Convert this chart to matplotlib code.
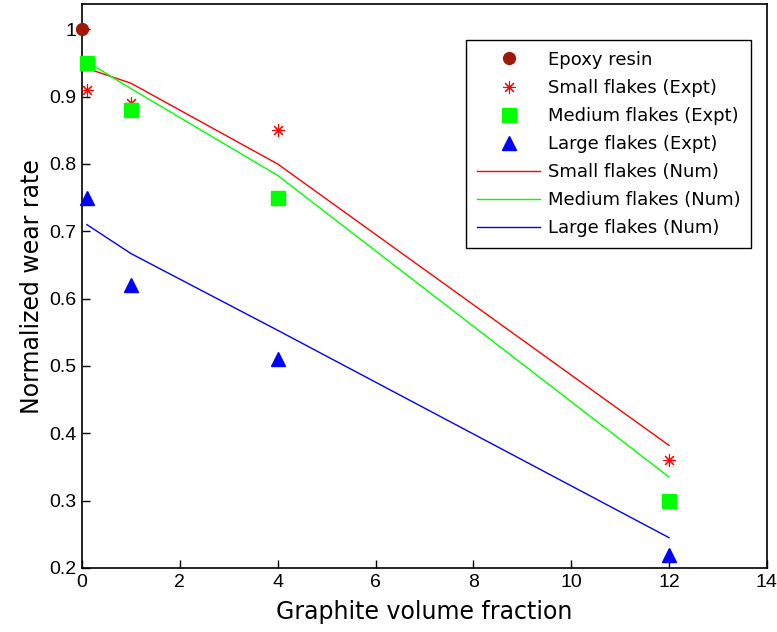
import matplotlib
matplotlib.use("Agg")
import matplotlib.pyplot as plt

plt.rcParams['font.family'] = ['Liberation Sans', 'DejaVu Sans']

# Experimental data
x_epoxy = [0]
y_epoxy = [1.0]
x_expt = [0.1, 1, 4, 12]
small_expt = [0.91, 0.89, 0.85, 0.36]
medium_expt = [0.95, 0.88, 0.75, 0.30]
large_expt = [0.75, 0.62, 0.51, 0.22]

# Numerical data
x_num = [0.1, 1, 4, 12]
small_num = [0.942, 0.92, 0.80, 0.382]
medium_num = [0.952, 0.912, 0.783, 0.335]
large_num = [0.71, 0.667, 0.553, 0.245]

fig = plt.figure(figsize=(7.77, 6.32), dpi=100)
ax = fig.add_axes([0.1055, 0.1013, 0.8815, 0.8917])

ax.plot(x_epoxy, y_epoxy, 'o', color='#a01808', markersize=8.5, label='Epoxy resin', clip_on=False, zorder=5)
ax.plot(x_expt, small_expt, linestyle='none', marker=(8, 2, 0), color='red',
        markersize=9, markeredgewidth=0.8, label='Small flakes (Expt)', clip_on=False, zorder=5)
ax.plot(x_expt, medium_expt, 's', color='#00ff00', markersize=10, label='Medium flakes (Expt)', clip_on=False, zorder=5)
ax.plot(x_expt, large_expt, '^', color='blue', markersize=10.5, label='Large flakes (Expt)', clip_on=False, zorder=5)
ax.plot(x_num, small_num, '-', color='red', lw=1.0, label='Small flakes (Num)')
ax.plot(x_num, medium_num, '-', color='#00ff00', lw=1.0, label='Medium flakes (Num)')
ax.plot(x_num, large_num, '-', color='blue', lw=1.0, label='Large flakes (Num)')

ax.set_xlim(0, 14)
ax.set_ylim(0.2, 1.037)
ax.set_xticks([0, 2, 4, 6, 8, 10, 12, 14])
ax.set_yticks([0.2, 0.3, 0.4, 0.5, 0.6, 0.7, 0.8, 0.9, 1.0])
ax.set_yticklabels(['0.2', '0.3', '0.4', '0.5', '0.6', '0.7', '0.8', '0.9', '1'])
ax.tick_params(direction='in', length=6, width=1, labelsize=14, pad=4)
for s in ax.spines.values():
    s.set_linewidth(1.2)

ax.set_xlabel('Graphite volume fraction', fontsize=17, labelpad=7, fontfamily='DejaVu Sans')
ax.set_ylabel('Normalized wear rate', fontsize=17, labelpad=4, fontfamily='DejaVu Sans')

leg = ax.legend(loc='upper right', bbox_to_anchor=(0.977, 0.937),
                prop={'family': 'DejaVu Sans', 'size': 13},
                frameon=True, fancybox=False, edgecolor='black', framealpha=1,
                borderpad=0.6, labelspacing=0.56, handlelength=3.5, handletextpad=0.4,
                borderaxespad=0, numpoints=1)
leg.get_frame().set_linewidth(1.0)

fig.savefig('out.png', dpi=100)
